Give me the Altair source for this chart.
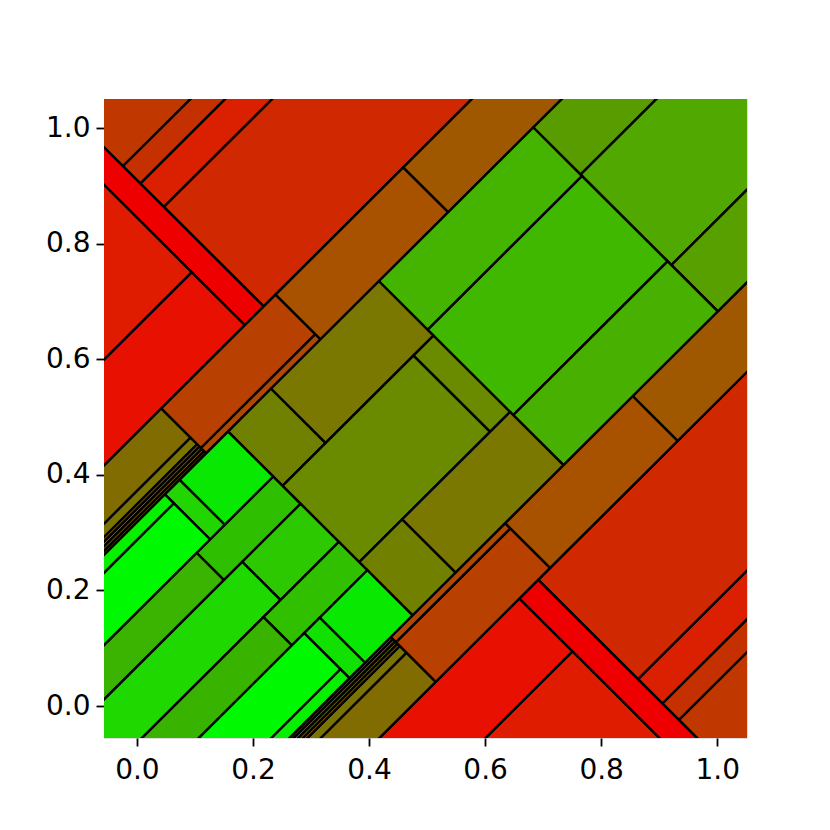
import altair as alt
import pandas as pd

# Rotated rectangles: a = x + y, b = y - x  (cells of a 45-degree treemap)
LO, HI = -0.6, 2.6
BL, BH = -1.6, 1.6
a0 = [0.91, 0.91, 0.91, 0.91, 0.845, LO, LO,
      0.91, 0.91, 0.91, 0.91, 0.845, LO, LO,
      LO, LO, LO, LO, LO, LO, 0.557, 0.557, 0.951, 1.391,
      LO, LO, LO, LO, LO, LO, 0.557, 0.557, 0.951, 1.391,
      1.684, 1.684, 1.684, 1.152, 1.152, 1.152,
      0.78, 0.632, 1.083, 0.632, 0.78, 0.632,
      0.465, 0.4145, LO, LO, 0.368, LO, 0.431, LO, 0.372, LO,
      0.468, 0.4145, LO, LO]
a1 = [HI, HI, HI, HI, 0.91, 0.845, 0.845,
      HI, HI, HI, HI, 0.91, 0.845, 0.845,
      0.557, 0.557, 0.557, 0.557, 0.557, 0.557, 0.951, 0.951, 1.391, HI,
      0.557, 0.557, 0.557, 0.557, 0.557, 0.557, 0.951, 0.951, 1.391, HI,
      HI, HI, HI, 1.684, 1.684, 1.684,
      1.152, 0.78, 1.152, 1.083, 1.152, 0.78,
      0.632, 0.465, 0.4145, 0.4145, 0.632, 0.368, 0.632, 0.431, 0.632, 0.372,
      0.632, 0.468, 0.4145, 0.4145]
b0 = [0.958, 0.898, 0.817, 0.473, 0.473, 0.656, 0.473,
      BL, -0.958, -0.901, -0.817, BL, BL, -0.656,
      0.372, 0.349, 0.341, 0.333, 0.325, 0.318, 0.336, 0.318, 0.318, 0.318,
      -0.473, -0.372, -0.349, -0.341, -0.333, -0.325, -0.473, -0.336, -0.473, -0.473,
      0.155, -0.158, -0.318, 0.15, -0.145, -0.318,
      0.13, 0.13, -0.134, -0.134, -0.318, -0.318,
      0.162, 0.162, 0.287, 0.162, 0.068, 0.068, -0.064, -0.064, -0.162, -0.162,
      -0.318, -0.318, -0.287, -0.318]
b1 = [BH, 0.958, 0.898, 0.817, BH, BH, 0.656,
      -0.958, -0.901, -0.817, -0.473, -0.473, -0.656, -0.473,
      0.473, 0.372, 0.349, 0.341, 0.333, 0.325, 0.473, 0.336, 0.473, 0.473,
      -0.372, -0.349, -0.341, -0.333, -0.325, -0.318, -0.336, -0.318, -0.318, -0.318,
      0.318, 0.155, -0.158, 0.318, 0.15, -0.145,
      0.318, 0.318, 0.13, 0.13, -0.134, -0.134,
      0.318, 0.318, 0.318, 0.287, 0.162, 0.162, 0.068, 0.068, -0.064, -0.064,
      -0.162, -0.162, -0.162, -0.287]
colors = ["#c03800", "#c43000", "#da2000", "#d02800", "#ee0000", "#e01c00", "#e81000",
          "#c03800", "#c43000", "#da2000", "#d02800", "#ee0000", "#e01c00", "#e81000",
          "#806c00", "#7c7400", "#8c6000", "#7a7400", "#906000", "#7c7600", "#b84000", "#b04800", "#a85200", "#a05800",
          "#806c00", "#7c7400", "#8c6000", "#7a7400", "#906000", "#7c7600", "#b84000", "#b04800", "#a85200", "#a05800",
          "#589c00", "#50a800", "#58a000", "#44b400", "#40b800", "#48b000",
          "#7a7800", "#708000", "#6a8a00", "#6a8a00", "#7a7800", "#728000",
          "#08e800", "#22d400", "#06f000", "#00f800", "#2ec000", "#3ab400", "#2cc800", "#1ed800", "#30c000", "#38b400",
          "#08e800", "#12e000", "#00f800", "#06f000"]

rows = []
for i in range(len(a0)):
    corners = [(a0[i], b0[i]), (a1[i], b0[i]), (a1[i], b1[i]), (a0[i], b1[i]), (a0[i], b0[i])]
    for k, (a, b) in enumerate(corners):
        rows.append({"id": i, "k": k, "x": (a - b) / 2, "y": (a + b) / 2, "c": colors[i]})
df = pd.DataFrame(rows)

ticks = [0.0, 0.2, 0.4, 0.6, 0.8, 1.0]
common = dict(values=ticks, format=".1f", grid=False, domain=False, tickSize=8, tickWidth=1.8,
              tickColor="black", labelColor="black", labelFontSize=28, labelFont="DejaVu Sans",
              title=None)

chart = alt.Chart(df).mark_line(clip=True, stroke="black", strokeWidth=2.4, strokeJoin="miter").encode(
    x=alt.X("x:Q", scale=alt.Scale(domain=[-0.0567, 1.0513], nice=False, zero=False),
            axis=alt.Axis(labelPadding=10, **common)),
    y=alt.Y("y:Q", scale=alt.Scale(domain=[-0.0552, 1.0503], nice=False, zero=False),
            axis=alt.Axis(labelPadding=6, **common)),
    fill=alt.Fill("c:N", scale=None, legend=None),
    detail="id:N",
    order="k:Q",
).properties(
    width=643, height=639,
    autosize=alt.AutoSizeParams(type="none"),
    padding={"left": 96, "top": 91, "right": 70, "bottom": 80},
).configure_view(stroke="black", strokeWidth=1.8).configure(background="white")

chart.save("out.html", embed_options={"renderer": "svg", "actions": False})
